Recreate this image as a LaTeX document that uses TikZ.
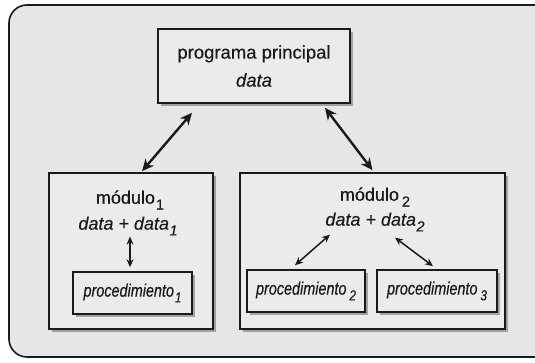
\documentclass[tikz,border=0pt]{standalone}
\usepackage{fontspec}
\setmainfont{Liberation Sans}[FakeBold=0.4]
\newfontfamily\procfont[FakeStretch=0.8,FakeBold=0.4]{Liberation Sans}
\usetikzlibrary{arrows.meta,shadows}
\definecolor{bggray}{HTML}{E6E6E6}
\definecolor{boxgray}{HTML}{EBEBEB}
\definecolor{linec}{HTML}{1A1A1A}
\newcommand{\sbs}[1]{\raisebox{-0.32em}{\fontsize{14.5}{14.5}\selectfont #1}}
\tikzset{
  box/.style={draw=linec, line width=1.6pt, fill=boxgray, inner sep=0pt,
    drop shadow={shadow xshift=3pt, shadow yshift=-3pt, opacity=0.45, fill=black!70}},
  bigarrow/.style={draw=linec, line width=2.4pt, {Stealth[length=12pt,width=11pt]}-{Stealth[length=12pt,width=11pt]}},
  smallarrow/.style={draw=linec, line width=1.5pt, {Stealth[length=8pt,width=7pt]}-{Stealth[length=8pt,width=7pt]}},
  txt/.style={inner sep=0pt, text=linec, font=\fontsize{18}{18}\selectfont},
  ptxt/.style={inner sep=0pt, text=linec, font=\procfont\itshape\fontsize{18}{18}\selectfont}
}
\begin{document}
\begin{tikzpicture}[x=1pt,y=1pt]
\useasboundingbox (0,0) rectangle (535,363);
\fill[white] (0,0) rectangle (535,363);
\draw[draw=linec, line width=1.6pt, fill=bggray, rounded corners=18pt] (9,6) rectangle (570,358);

% top box
\node[box, minimum width=192pt, minimum height=74pt] (top) at (254,297) {};
\node[txt, align=center, font=\fontsize{18.5}{28}\selectfont] (toptxt) at (254,297) {programa principal\\ \textit{data}};

% module boxes
\node[box, minimum width=164pt, minimum height=156pt] (lm) at (131,112) {};
\node[box, minimum width=265pt, minimum height=156pt] (rm) at (372.5,112) {};

\node[txt] (m1) at (130,163) {módulo\kern1pt\sbs{1}};
\node[txt] (d1) at (128,137) {\textit{data + data\kern0.5pt\sbs{1}}};
\node[txt] (m2) at (375,166) {módulo\kern3pt\sbs{2}};
\node[txt] (d2) at (375,141) {\textit{data + data\kern0.5pt\sbs{2}}};

% procedure boxes
\node[box, minimum width=119pt, minimum height=42pt] (p1) at (132.5,70) {};
\node[box, minimum width=118pt, minimum height=42pt] (p2) at (306,72) {};
\node[box, minimum width=120pt, minimum height=42pt] (p3) at (437,72) {};
\node[ptxt] (p1t) at (132.5,70) {procedimiento\kern1pt\sbs{1}};
\node[ptxt] (p2t) at (306,72) {procedimiento\kern3pt\sbs{2}};
\node[ptxt] (p3t) at (437,72) {procedimiento\kern3pt\sbs{3}};

% connectors
\draw[bigarrow] ([xshift=-62pt,yshift=-9pt]top.south) -- ([xshift=11pt,yshift=1pt]lm.north);
\draw[bigarrow] ([xshift=71pt,yshift=-4pt]top.south) -- ([xshift=0pt,yshift=2pt]rm.north);
\draw[smallarrow] ([xshift=2pt,yshift=-1pt]d1.south) -- ([xshift=-2.5pt,yshift=4pt]p1.north);
\draw[smallarrow] ([xshift=-45pt,yshift=-3pt]d2.south) -- ([xshift=-11pt,yshift=4pt]p2.north);
\draw[smallarrow] ([xshift=20pt,yshift=-6pt]d2.south) -- ([xshift=-4pt,yshift=3pt]p3.north);
\end{tikzpicture}
\end{document}
